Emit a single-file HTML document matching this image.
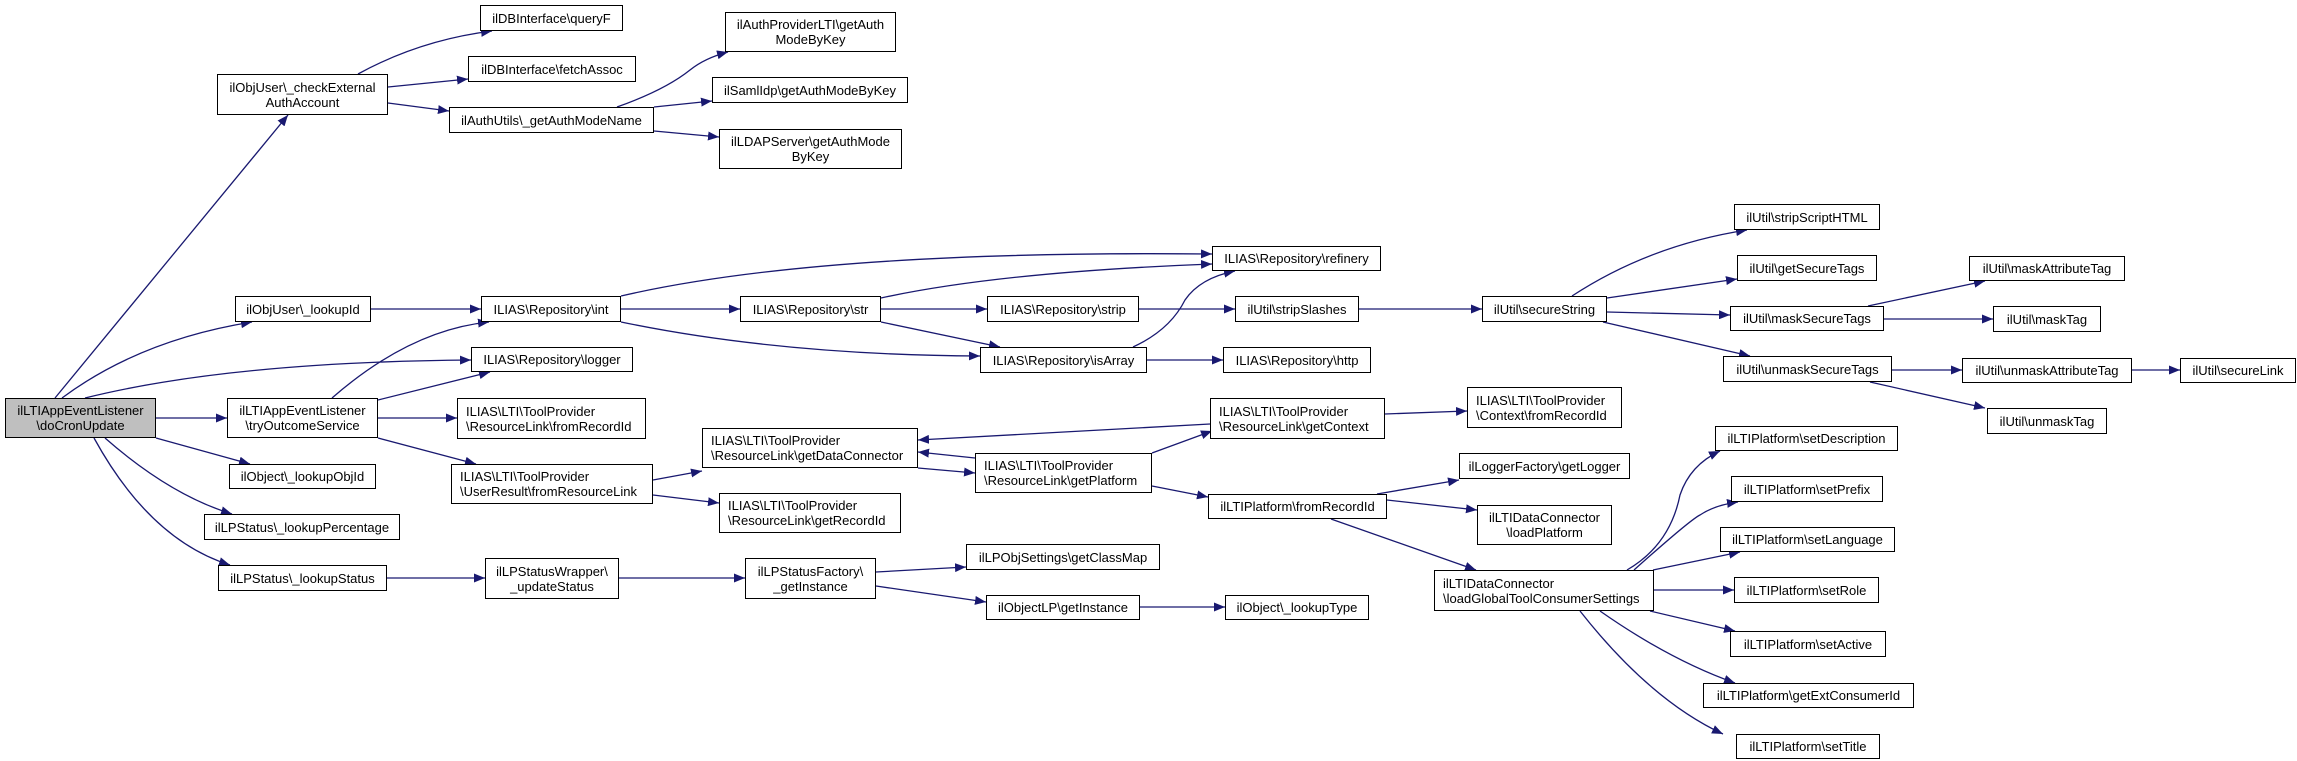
<!DOCTYPE html>
<html><head><meta charset="utf-8"><style>
html,body{margin:0;padding:0;background:#fff;}
#c{position:relative;width:2297px;height:761px;overflow:hidden;background:#fff;font-family:"Liberation Sans",Arial,sans-serif;}
.b{position:absolute;box-sizing:border-box;border:1.3px solid #000;background:#fff;font-size:13px;line-height:15px;color:#000;display:flex;align-items:center;justify-content:center;text-align:center;white-space:nowrap;}
.l{justify-content:flex-start;text-align:left;padding-left:8px;}
svg{position:absolute;left:0;top:0;}
</style></head><body><div id="c">
<svg width="2297" height="761" viewBox="0 0 2297 761">
<defs><marker id="a" markerWidth="12" markerHeight="9" refX="11" refY="4.5" orient="auto" markerUnits="userSpaceOnUse"><path d="M0,0 L11,4.5 L0,9 Z" fill="#191970"/></marker></defs>
<g fill="none" stroke="#191970" stroke-width="1.3" marker-end="url(#a)">
<path d="M55,398 L288,115"/>
<path d="M62,398 Q140,340 252,322"/>
<path d="M85,398 Q230,362 471,360"/>
<path d="M156,418 L227,418"/>
<path d="M156,438 L250,464"/>
<path d="M105,438 Q170,495 232,514"/>
<path d="M94,438 Q150,540 230,565"/>
<path d="M358,74 Q420,40 492,31"/>
<path d="M388,87 L468,79"/>
<path d="M388,103 L449,111"/>
<path d="M617,107 Q665,90 690,70 Q705,58 728,52"/>
<path d="M654,107 L712,101"/>
<path d="M654,131 L719,137"/>
<path d="M371,309 L481,309"/>
<path d="M621,296 Q820,250 1212,254"/>
<path d="M621,309 L740,309"/>
<path d="M621,322 Q780,355 980,356"/>
<path d="M332,398 Q410,330 489,322"/>
<path d="M378,400 L490,372"/>
<path d="M378,418 L457,418"/>
<path d="M378,438 L476,464"/>
<path d="M881,298 Q1000,272 1212,264"/>
<path d="M881,309 L987,309"/>
<path d="M881,322 L1000,347"/>
<path d="M1139,309 L1235,309"/>
<path d="M1133,347 Q1170,330 1185,300 Q1200,278 1235,271"/>
<path d="M1147,360 L1223,360"/>
<path d="M1359,309 L1482,309"/>
<path d="M1572,296 Q1650,245 1747,230"/>
<path d="M1607,298 L1737,279"/>
<path d="M1607,312 L1730,315"/>
<path d="M1603,322 L1750,356"/>
<path d="M1868,306 L1985,281"/>
<path d="M1884,319 L1993,319"/>
<path d="M1892,370 L1962,370"/>
<path d="M1870,382 L1985,408"/>
<path d="M2132,370 L2180,370"/>
<path d="M653,480 L702,471"/>
<path d="M653,495 L719,503"/>
<path d="M918,468 L975,473"/>
<path d="M975,458 L918,452"/>
<path d="M1210,424 L918,440"/>
<path d="M1152,453 L1212,431"/>
<path d="M1385,414 L1467,411"/>
<path d="M1152,486 L1208,497"/>
<path d="M1377,494 L1459,480"/>
<path d="M1387,500 L1477,510"/>
<path d="M1331,519 L1476,570"/>
<path d="M387,578 L485,578"/>
<path d="M619,578 L745,578"/>
<path d="M876,572 L966,567"/>
<path d="M876,586 L986,602"/>
<path d="M1140,607 L1225,607"/>
<path d="M1627,570 Q1670,545 1680,495 Q1690,465 1720,451"/>
<path d="M1634,570 Q1690,520 1700,515 Q1715,505 1738,502"/>
<path d="M1653,570 L1740,552"/>
<path d="M1654,590 L1734,590"/>
<path d="M1650,611 L1735,631"/>
<path d="M1600,611 Q1670,660 1735,683"/>
<path d="M1580,611 Q1650,700 1723,734"/>
</g></svg>

<div class="b" style="left:5px;top:398px;width:151px;height:40px;background:#bfbfbf">ilLTIAppEventListener<br>\doCronUpdate</div>
<div class="b" style="left:217px;top:74px;width:171px;height:41px">ilObjUser\_checkExternal<br>AuthAccount</div>
<div class="b" style="left:235px;top:296px;width:136px;height:26px">ilObjUser\_lookupId</div>
<div class="b" style="left:227px;top:398px;width:151px;height:40px">ilLTIAppEventListener<br>\tryOutcomeService</div>
<div class="b" style="left:229px;top:464px;width:147px;height:25px">ilObject\_lookupObjId</div>
<div class="b" style="left:204px;top:514px;width:196px;height:26px">ilLPStatus\_lookupPercentage</div>
<div class="b" style="left:218px;top:565px;width:169px;height:26px">ilLPStatus\_lookupStatus</div>

<div class="b" style="left:480px;top:5px;width:143px;height:26px">ilDBInterface\queryF</div>
<div class="b" style="left:468px;top:56px;width:168px;height:26px">ilDBInterface\fetchAssoc</div>
<div class="b" style="left:449px;top:107px;width:205px;height:26px">ilAuthUtils\_getAuthModeName</div>
<div class="b" style="left:725px;top:12px;width:171px;height:40px">ilAuthProviderLTI\getAuth<br>ModeByKey</div>
<div class="b" style="left:712px;top:77px;width:196px;height:26px">ilSamlIdp\getAuthModeByKey</div>
<div class="b" style="left:719px;top:129px;width:183px;height:40px">ilLDAPServer\getAuthMode<br>ByKey</div>

<div class="b" style="left:481px;top:296px;width:140px;height:26px">ILIAS\Repository\int</div>
<div class="b" style="left:471px;top:347px;width:162px;height:25px">ILIAS\Repository\logger</div>
<div class="b l" style="left:457px;top:398px;width:189px;height:41px">ILIAS\LTI\ToolProvider<br>\ResourceLink\fromRecordId</div>
<div class="b l" style="left:451px;top:464px;width:202px;height:40px">ILIAS\LTI\ToolProvider<br>\UserResult\fromResourceLink</div>
<div class="b" style="left:485px;top:558px;width:134px;height:41px">ilLPStatusWrapper\<br>_updateStatus</div>

<div class="b" style="left:740px;top:296px;width:141px;height:26px">ILIAS\Repository\str</div>
<div class="b l" style="left:702px;top:428px;width:216px;height:40px">ILIAS\LTI\ToolProvider<br>\ResourceLink\getDataConnector</div>
<div class="b l" style="left:719px;top:493px;width:182px;height:40px">ILIAS\LTI\ToolProvider<br>\ResourceLink\getRecordId</div>
<div class="b" style="left:745px;top:558px;width:131px;height:41px">ilLPStatusFactory\<br>_getInstance</div>

<div class="b" style="left:987px;top:296px;width:152px;height:26px">ILIAS\Repository\strip</div>
<div class="b" style="left:980px;top:347px;width:167px;height:26px">ILIAS\Repository\isArray</div>
<div class="b l" style="left:975px;top:453px;width:177px;height:40px">ILIAS\LTI\ToolProvider<br>\ResourceLink\getPlatform</div>
<div class="b" style="left:966px;top:544px;width:194px;height:26px">ilLPObjSettings\getClassMap</div>
<div class="b" style="left:986px;top:595px;width:154px;height:25px">ilObjectLP\getInstance</div>

<div class="b" style="left:1212px;top:246px;width:169px;height:25px">ILIAS\Repository\refinery</div>
<div class="b" style="left:1235px;top:296px;width:124px;height:26px">ilUtil\stripSlashes</div>
<div class="b" style="left:1223px;top:347px;width:148px;height:26px">ILIAS\Repository\http</div>
<div class="b l" style="left:1210px;top:398px;width:175px;height:41px">ILIAS\LTI\ToolProvider<br>\ResourceLink\getContext</div>
<div class="b" style="left:1208px;top:494px;width:179px;height:25px">ilLTIPlatform\fromRecordId</div>
<div class="b" style="left:1225px;top:595px;width:144px;height:25px">ilObject\_lookupType</div>

<div class="b" style="left:1482px;top:296px;width:125px;height:26px">ilUtil\secureString</div>
<div class="b l" style="left:1467px;top:387px;width:155px;height:41px">ILIAS\LTI\ToolProvider<br>\Context\fromRecordId</div>
<div class="b" style="left:1459px;top:453px;width:171px;height:26px">ilLoggerFactory\getLogger</div>
<div class="b" style="left:1477px;top:505px;width:135px;height:40px">ilLTIDataConnector<br>\loadPlatform</div>
<div class="b l" style="left:1434px;top:570px;width:220px;height:41px">ilLTIDataConnector<br>\loadGlobalToolConsumerSettings</div>

<div class="b" style="left:1734px;top:204px;width:146px;height:26px">ilUtil\stripScriptHTML</div>
<div class="b" style="left:1737px;top:255px;width:140px;height:26px">ilUtil\getSecureTags</div>
<div class="b" style="left:1730px;top:306px;width:154px;height:25px">ilUtil\maskSecureTags</div>
<div class="b" style="left:1723px;top:356px;width:169px;height:26px">ilUtil\unmaskSecureTags</div>
<div class="b" style="left:1715px;top:426px;width:183px;height:25px">ilLTIPlatform\setDescription</div>
<div class="b" style="left:1731px;top:476px;width:152px;height:26px">ilLTIPlatform\setPrefix</div>
<div class="b" style="left:1720px;top:527px;width:175px;height:25px">ilLTIPlatform\setLanguage</div>
<div class="b" style="left:1734px;top:577px;width:145px;height:26px">ilLTIPlatform\setRole</div>
<div class="b" style="left:1730px;top:631px;width:156px;height:26px">ilLTIPlatform\setActive</div>
<div class="b" style="left:1703px;top:683px;width:211px;height:25px">ilLTIPlatform\getExtConsumerId</div>
<div class="b" style="left:1736px;top:734px;width:144px;height:25px">ilLTIPlatform\setTitle</div>

<div class="b" style="left:1969px;top:256px;width:156px;height:25px">ilUtil\maskAttributeTag</div>
<div class="b" style="left:1993px;top:306px;width:108px;height:26px">ilUtil\maskTag</div>
<div class="b" style="left:1962px;top:358px;width:170px;height:25px">ilUtil\unmaskAttributeTag</div>
<div class="b" style="left:1987px;top:408px;width:120px;height:26px">ilUtil\unmaskTag</div>
<div class="b" style="left:2180px;top:358px;width:116px;height:25px">ilUtil\secureLink</div>
</div></body></html>
